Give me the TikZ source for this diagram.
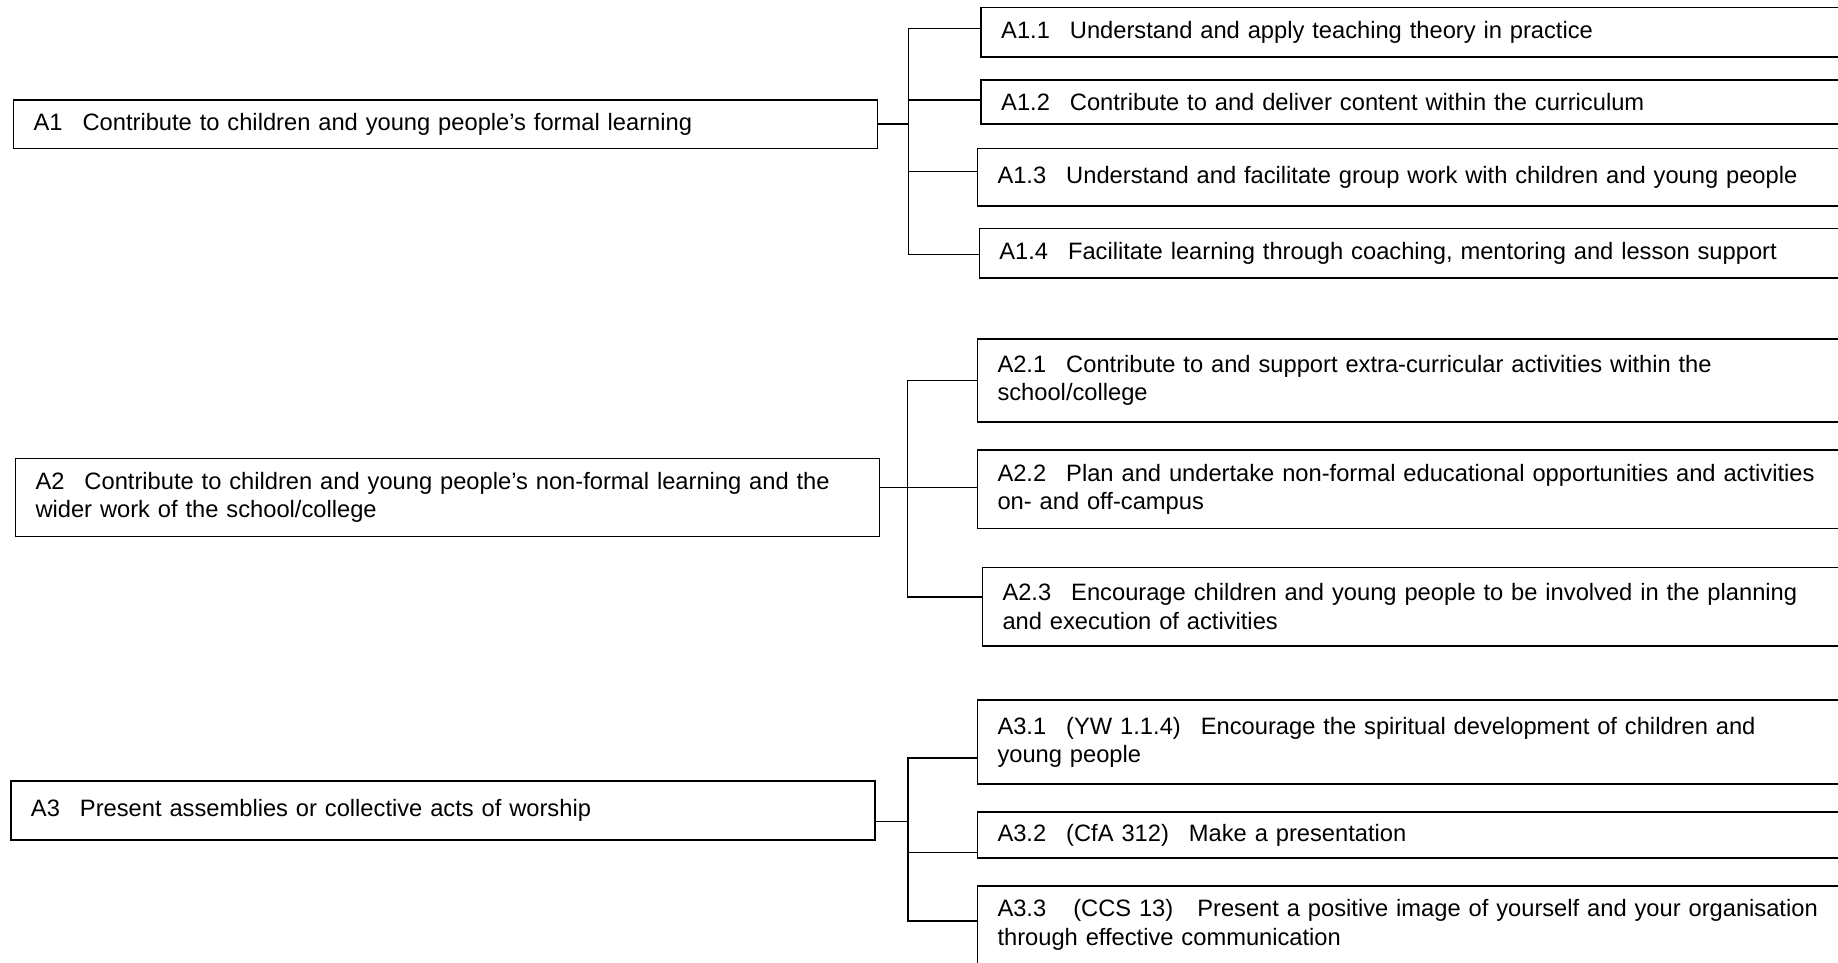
\documentclass[tikz,border=0pt]{standalone}
\usepackage{fontspec}
\setmainfont{Liberation Sans}
\usepackage{tikz}
\usetikzlibrary{positioning, calc}

\newcommand{\gp}{\hspace{10pt}}

\begin{document}
\begin{tikzpicture}[x=0.5pt, y=-0.5pt,
  unit/.style={rectangle, draw=black, line width=0.8pt, anchor=north west, align=left, inner xsep=10pt, inner ysep=2pt, font=\fontsize{11.85}{14.2}\selectfont},
  main/.style={unit, text width=412pt},
  sub/.style={unit, text width=442pt},
  link/.style={draw=black, line width=0.8pt}]

\useasboundingbox (0,0) rectangle (1838,963);
\clip (0,0) rectangle (1838,963);

% main units
\node (A1)[main, minimum height=24.4pt] at (12.8,99) {A1\gp Contribute to children and young people’s formal learning};
\node (A2)[main, minimum height=39pt] at (14.7,457.7) {A2\gp Contribute to children and young people’s non-formal learning and the\\wider work of the school/college};
\node (A3)[main, minimum height=29.7pt] at (10.2,780) {A3\gp Present assemblies or collective acts of worship};

% A1 elements
\node (A11)[sub, minimum height=24.7pt] at (980.4,6.7) {A1.1\gp Understand and apply teaching theory in practice};
\node (A12)[sub, minimum height=22.2pt] at (980.4,79) {A1.2\gp Contribute to and deliver content within the curriculum};
\node (A13)[sub, minimum height=28.7pt] at (976.7,147.7) {A1.3\gp Understand and facilitate group work with children and young people};
\node (A14)[sub, minimum height=24.8pt] at (978.5,227.7) {A1.4\gp Facilitate learning through coaching, mentoring and lesson support};

% A2 elements
\node (A21)[sub, minimum height=41.4pt] at (976.7,338.3) {A2.1\gp Contribute to and support extra-curricular activities within the\\school/college};
\node (A22)[sub, minimum height=39.2pt] at (976.7,449.3) {A2.2\gp Plan and undertake non-formal educational opportunities and activities\\on- and off-campus};
\node (A23)[sub, minimum height=39.2pt] at (981.7,566.7) {A2.3\gp Encourage children and young people to be involved in the planning\\and execution of activities};

% A3 elements
\node (A31)[sub, minimum height=42pt] at (976.7,699.3) {A3.1\gp (YW 1.1.4)\gp Encourage the spiritual development of children and\\young people};
\node (A32)[sub, minimum height=23.2pt] at (976.7,811) {A3.2\gp (CfA 312)\gp Make a presentation};
\node (A33)[sub, minimum height=39pt] at (976.7,885) {A3.3\hspace{13.5pt}(CCS 13)\hspace{12pt}Present a positive image of yourself and your organisation\\through effective communication};

% brackets
\draw[link] (A1.east) -- ++(15pt,0) coordinate (t1);
\foreach \n/\dy in {A11/1.8pt, A12/1.1pt, A13/2.8pt, A14/-0.6pt}
  \draw[link] (t1) |- ([yshift=\dy]\n.west);

\draw[link] ([yshift=5pt]A2.east) -- ++(13.5pt,0) coordinate (t2);
\foreach \n/\dy in {A21/0pt, A22/0.9pt, A23/4.9pt}
  \draw[link] (t2) |- ([yshift=\dy]\n.west);

\draw[link] ([yshift=-5.5pt]A3.east) -- ++(16pt,0) coordinate (t3);
\foreach \n/\dy in {A31/-8pt, A32/-8.7pt, A33/2pt}
  \draw[link] (t3) |- ([yshift=\dy]\n.west);

\end{tikzpicture}
\end{document}
